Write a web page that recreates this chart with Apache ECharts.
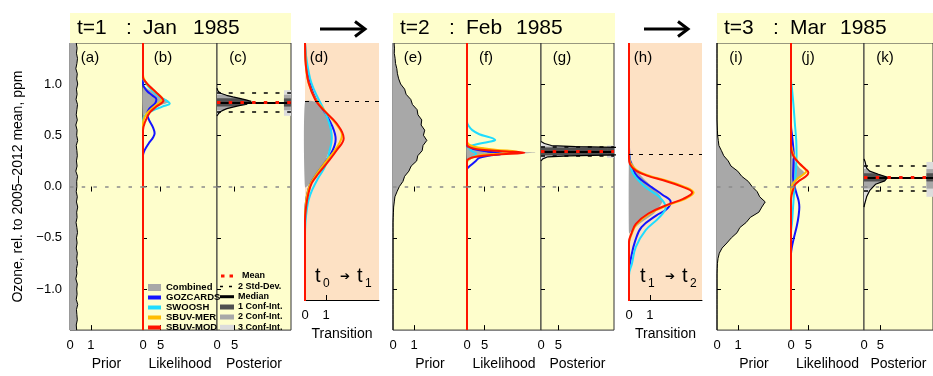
<!DOCTYPE html>
<html>
<head>
<meta charset="utf-8">
<script src="https://cdn.jsdelivr.net/npm/echarts@6/dist/echarts.min.js"></script>
<style>
  html, body { margin: 0; padding: 0; background: #fff; }
  #chart { width: 933px; height: 376px; }
</style>
</head>
<body>
<div id="chart"></div>
<script>
// ozone levels (ppm, rel. to 2005-2012) of the prior histograms, top to bottom
const priorLevels = [1.40,1.35,1.30,1.25,1.20,1.15,1.10,1.05,1.00,0.95,0.90,0.85,0.80,0.75,0.70,0.65,0.60,0.55,0.50,0.45,
  0.40,0.35,0.30,0.25,0.20,0.15,0.10,0.05,0.00,-0.05,-0.10,-0.15,-0.20,-0.25,-0.30,-0.35,-0.40,-0.45,-0.50,-0.55,
  -0.60,-0.65,-0.70,-0.75,-0.80,-0.85,-0.90,-0.95,-1.00,-1.05,-1.10,-1.15,-1.20,-1.25,-1.30,-1.35,-1.40];
// prior densities at those levels
const priorA = [0.30,0.34,0.31,0.36,0.33,0.28,0.35,0.32,0.37,0.31,0.34,0.29,0.36,0.33,0.30,0.35,0.28,0.34,0.32,0.37,
  0.30,0.33,0.35,0.31,0.34,0.28,0.36,0.32,0.33,0.30,0.35,0.31,0.37,0.32,0.34,0.29,0.33,0.36,0.31,0.34,
  0.30,0.35,0.32,0.36,0.31,0.33,0.28,0.35,0.32,0.34,0.30,0.37,0.31,0.33,0.35,0.30,0.32];
const priorE = [0.05,0.07,0.06,0.10,0.12,0.18,0.21,0.27,0.36,0.55,0.62,0.84,0.92,1.14,1.18,1.36,1.33,1.50,1.44,1.60,
  1.42,1.38,1.17,1.12,0.86,0.75,0.55,0.47,0.30,0.19,0.09,0.06,0.03,0.02,0.01,0,0,0,0,0,
  0,0,0,0,0,0,0,0,0,0,0,0,0,0,0,0,0];
const priorI = [0,0,0,0,0,0,0,0,0,0,0,0,0,0,0,0,0.01,0.02,0.03,0.06,
  0.09,0.21,0.32,0.53,0.66,0.98,1.17,1.48,1.66,1.90,2.02,2.28,2.12,1.98,1.58,1.38,1.08,0.95,0.68,0.47,
  0.24,0.11,0.05,0.02,0.01,0,0,0,0,0,0,0,0,0,0,0,0];

// likelihoods: [density, ozone]
const likB_comb = [[0,0.98],[1.5,0.95],[3,0.92],[4.5,0.89],[6,0.86],[7.4,0.825],[5.5,0.80],[3.6,0.77],[1.8,0.735],[0.5,0.71],[0,0.695]];
const likB_goz = [[0,-1.4],[0,0.30],[0.4,0.35],[1.6,0.42],[2.9,0.48],[3.3,0.52],[2.8,0.58],[1.7,0.65],[1.2,0.71],[1.8,0.76],[3.4,0.81],[3.8,0.85],[2.6,0.89],[1.2,0.93],[0.3,0.97],[0,1.0],[0,1.4]];
const likB_swoosh = [[0,-1.4],[0,0.64],[0.7,0.70],[2.7,0.74],[5.5,0.78],[7.6,0.81],[6.5,0.84],[4.1,0.89],[2.5,0.94],[1.4,0.98],[0.6,1.02],[0,1.06],[0,1.4]];
const likB_mer = [[0,-1.4],[0,0.62],[0.5,0.68],[1.5,0.73],[3.2,0.78],[5.0,0.83],[5.4,0.86],[4.3,0.90],[2.6,0.95],[1.2,1.0],[0.3,1.05],[0,1.09],[0,1.4]];
const likB_mod = [[0,-1.4],[0,0.55],[0.6,0.63],[1.9,0.72],[3.8,0.78],[5.8,0.84],[5.2,0.87],[3.7,0.92],[1.8,0.98],[0.5,1.03],[0,1.06],[0,1.4]];

const likF_comb = [[0,0.42],[1.5,0.40],[5,0.375],[10,0.355],[15,0.34],[19.5,0.33],[13,0.32],[7,0.30],[2.5,0.28],[0.5,0.265],[0,0.255]];
const likF_goz = [[0,-1.4],[0,0.17],[0.5,0.19],[1.5,0.22],[2.5,0.25],[3.5,0.28],[6,0.30],[10,0.32],[6,0.34],[2.5,0.36],[0.8,0.38],[0,0.40],[0,1.4]];
const likF_swoosh = [[0,-1.4],[0,0.24],[0.8,0.27],[2.0,0.30],[2.6,0.32],[1.2,0.35],[0.5,0.38],[2.5,0.41],[6,0.435],[8.0,0.455],[6.5,0.48],[3.5,0.51],[1.5,0.55],[0.5,0.59],[0,0.63],[0,1.4]];
const likF_mer = [[0,-1.4],[0,0.24],[0.7,0.27],[3,0.30],[9,0.32],[14.5,0.34],[8,0.36],[3,0.38],[1,0.40],[0.3,0.42],[0,0.44],[0,1.4]];
const likF_mod = [[0,-1.4],[0,0.25],[0.5,0.27],[2.5,0.29],[8,0.31],[16.3,0.33],[10,0.345],[4,0.36],[1.5,0.375],[0.4,0.39],[0,0.41],[0,1.4]];

const likJ_comb = [[0,0.30],[0.5,0.27],[1.5,0.22],[2.8,0.17],[3.8,0.135],[3.0,0.10],[1.6,0.06],[0.5,0.03],[0,0.01]];
const likJ_goz = [[0,1.4],[0,0.6],[0.3,0.5],[0.6,0.4],[0.8,0.3],[0.7,0.2],[0.6,0.1],[0.9,0.02],[1.6,-0.07],[2.2,-0.14],[2.4,-0.2],[2.2,-0.28],[1.7,-0.38],[0.7,-0.52],[0.2,-0.6],[0,-0.66],[0,-1.4]];
const likJ_swoosh = [[0,1.4],[0,1.05],[0.3,0.95],[0.7,0.8],[1.1,0.62],[1.5,0.45],[1.6,0.3],[1.4,0.15],[1.1,0.05],[0.9,-0.05],[0.7,-0.15],[0.5,-0.25],[0.3,-0.35],[0,-0.45],[0,-1.4]];
const likJ_mer = [[0,1.4],[0,0.42],[0.3,0.36],[1,0.29],[2.5,0.22],[4.0,0.17],[4.4,0.15],[3.6,0.12],[2,0.08],[0.8,0.04],[0.2,0.0],[0,-0.05],[0,-1.4]];
const likJ_mod = [[0,1.4],[0,0.38],[0.3,0.33],[1,0.28],[2.6,0.22],[4.2,0.17],[5.0,0.135],[4.3,0.10],[2.5,0.06],[1.2,0.02],[0.6,-0.03],[0.2,-0.08],[0,-0.13],[0,-1.4]];

// transitions t0->t1 and t1->t2
const trD_mark = 0.84;
const trD_comb = [[0,0.84],[0.48,0.84],[0.7,0.80],[0.95,0.74],[1.15,0.66],[1.27,0.57],[1.28,0.49],[1.2,0.41],[1.03,0.31],[0.8,0.22],[0.5,0.13],[0.24,0.06],[0,0.02]];
const trD_goz = [[0,1.4],[0.03,1.25],[0.1,1.12],[0.25,1.0],[0.5,0.87],[0.9,0.75],[1.3,0.6],[1.45,0.48],[1.3,0.37],[0.95,0.26],[0.55,0.15],[0.25,0.05],[0.1,-0.05],[0.03,-0.15],[0,-0.3],[0,-1.1]];
const trD_swoosh = [[0,1.4],[0.05,1.28],[0.15,1.15],[0.3,1.02],[0.6,0.88],[0.9,0.76],[1.15,0.63],[1.27,0.49],[1.15,0.36],[0.95,0.22],[0.6,0.1],[0.35,0.0],[0.17,-0.1],[0.08,-0.2],[0.02,-0.32],[0,-0.45],[0,-1.1]];
const trD_mer = [[0,1.4],[0.02,1.25],[0.07,1.12],[0.2,1.0],[0.48,0.87],[0.9,0.76],[1.45,0.63],[1.75,0.52],[1.5,0.40],[1.0,0.27],[0.55,0.15],[0.25,0.05],[0.1,-0.05],[0.03,-0.15],[0,-0.25],[0,-1.1]];
const trD_mod = [[0,1.4],[0.02,1.25],[0.05,1.17],[0.17,1.02],[0.48,0.86],[0.87,0.76],[1.5,0.63],[1.83,0.49],[1.5,0.375],[1.03,0.25],[0.63,0.15],[0.32,0.06],[0.16,-0.04],[0.05,-0.17],[0,-0.3],[0,-1.1]];

const trH_mark = 0.34;
const trH_comb = [[0,0.34],[0.1,0.28],[0.49,0.15],[1.13,0.02],[1.5,-0.06],[1.6,-0.12],[1.2,-0.23],[0.49,-0.33],[0.1,-0.40],[0,-0.42]];
const trH_goz = [[0,1.4],[0,0.4],[0.05,0.28],[0.3,0.15],[0.6,0.09],[1.1,0.02],[1.6,-0.05],[2.0,-0.12],[1.8,-0.19],[1.3,-0.25],[0.6,-0.36],[0.3,-0.49],[0.1,-0.65],[0,-0.78],[0,-1.1]];
const trH_swoosh = [[0,1.4],[0,0.36],[0.05,0.25],[0.2,0.15],[0.8,0.02],[1.44,-0.07],[1.76,-0.17],[1.44,-0.27],[0.8,-0.39],[0.33,-0.55],[0.14,-0.71],[0,-0.82],[0,-1.1]];
const trH_mer = [[0,1.4],[0,0.32],[0.07,0.25],[0.4,0.18],[1.0,0.13],[1.7,0.09],[2.6,0.03],[3.1,-0.03],[2.7,-0.09],[2.0,-0.14],[1.0,-0.23],[0.38,-0.33],[0.12,-0.43],[0,-0.52],[0,-1.1]];
const trH_mod = [[0,1.4],[0,0.30],[0.05,0.24],[0.33,0.18],[0.9,0.13],[1.6,0.09],[2.5,0.03],[3.03,-0.03],[2.6,-0.09],[1.92,-0.14],[0.93,-0.23],[0.33,-0.33],[0.1,-0.43],[0,-0.5],[0,-1.1]];

// posteriors: density, conf-int (1,2,3), mean, median, 2 std-dev
const postC = [[0,0.96],[0.3,0.93],[1,0.91],[2.7,0.89],[4.5,0.875],[6.4,0.86],[8.2,0.845],[9.7,0.83],[9.2,0.815],[8.2,0.80],[6.3,0.79],[4.5,0.775],[2.8,0.76],[1.8,0.745],[0.9,0.73],[0.4,0.71],[0,0.69]];
const postC_ci = [[0.78,0.86],[0.745,0.895],[0.69,0.94]];
const postC_mean = 0.82, postC_median = 0.82, postC_sd = [0.73,0.91];

const postG = [[0,0.44],[1,0.42],[3,0.40],[10,0.39],[25,0.38],[45,0.36],[50,0.34],[45,0.32],[25,0.31],[8,0.30],[2,0.29],[0.5,0.27],[0,0.25]];
const postG_ci = [[0.305,0.38],[0.295,0.39],[0.28,0.40]];
const postG_mean = 0.34, postG_median = 0.34, postG_sd = [0.30,0.385];

const postK = [[0,0.27],[0.3,0.245],[0.8,0.18],[1.7,0.15],[4.4,0.12],[7.2,0.09],[6.3,0.055],[3.5,0.022],[1.7,-0.04],[0.8,-0.1],[0.2,-0.17],[0,-0.2]];
const postK_ci = [[0.05,0.13],[-0.02,0.17],[-0.1,0.24]];
const postK_mean = 0.09, postK_median = 0.09, postK_sd = [-0.035,0.205];

const FONT = 'Liberation Sans';
const YELLOW = '#fefecc';
const PEACH = '#fde1c4';
const C_GOZ = '#1414ff', C_SW = '#1edcff', C_MER = '#ffbc00', C_MOD = '#ff1400', C_COMB = '#a8a8a8';
const CI_FILL = ['#505050', '#a8a8a8', '#dcdcdc'];

// panel layout
const panels = [
  { left: 70, width: 73, kind: 'prior', name: 'Prior' },
  { left: 143, width: 74, kind: 'lik', name: 'Likelihood' },
  { left: 217, width: 74, kind: 'post', name: 'Posterior' },
  { left: 305, width: 74, kind: 'trans', name: 'Transition' },
  { left: 393, width: 74, kind: 'prior', name: 'Prior' },
  { left: 467, width: 74, kind: 'lik', name: 'Likelihood' },
  { left: 541, width: 73, kind: 'post', name: 'Posterior' },
  { left: 629, width: 73, kind: 'trans', name: 'Transition' },
  { left: 717, width: 74, kind: 'prior', name: 'Prior' },
  { left: 791, width: 73, kind: 'lik', name: 'Likelihood' },
  { left: 864, width: 74, kind: 'post', name: 'Posterior' }
];
const panelTags = ['(a)','(b)','(c)','(d)','(e)','(f)','(g)','(h)','(i)','(j)','(k)'];
const tagX = [90, 163, 238, 319, 413, 486, 562, 643, 736, 808, 885];

const small = k => (k === 'prior' || k === 'trans');

const grid = panels.map(p => ({
  left: p.left, top: 43, width: p.width, height: p.kind === 'trans' ? 257 : 293,
  show: true, backgroundColor: p.kind === 'trans' ? PEACH : YELLOW,
  borderColor: '#333', borderWidth: p.kind === 'trans' ? 0 : 1
}));

const xAxis = panels.map((p, i) => {
  const t = small(p.kind) ? 1 : 5;
  return {
    gridIndex: i, type: 'value', min: 0, max: small(p.kind) ? 3.5 : 21, position: 'bottom',
    axisLine: { show: p.kind === 'trans', onZero: false, lineStyle: { color: '#000', width: 1 } },
    axisTick: { show: true, inside: true, length: 5, customValues: [t], lineStyle: { color: '#000' } },
    axisLabel: { customValues: [0, t], fontSize: 13, color: '#000', margin: 9, fontFamily: FONT },
    splitLine: { show: false },
    name: p.name, nameLocation: 'middle', nameGap: 24,
    nameTextStyle: { fontSize: 14, color: '#000', fontFamily: FONT }
  };
});
panels.forEach((p, i) => {
  if (p.kind === 'trans') return;
  const t = small(p.kind) ? 1 : 5;
  xAxis.push({
    gridIndex: i, type: 'value', min: 0, max: small(p.kind) ? 3.5 : 21, position: 'top',
    axisLine: { show: false },
    axisTick: { show: true, inside: true, length: 5, customValues: [t], lineStyle: { color: '#000' } },
    axisLabel: { show: false }, splitLine: { show: false }
  });
});

const yTicks = [-1, -0.5, 0, 0.5, 1];
const yAxis = panels.map((p, i) => ({
  gridIndex: i, type: 'value', min: p.kind === 'trans' ? -1.057 : -1.4, max: 1.4,
  axisLine: { show: false },
  axisTick: { show: p.kind !== 'trans', inside: true, length: 4, customValues: yTicks, lineStyle: { color: '#000' } },
  axisLabel: {
    show: i === 0, customValues: yTicks, fontSize: 13, color: '#000', margin: 8, fontFamily: FONT,
    formatter: v => v.toFixed(1).replace('-', '\u2212')
  },
  splitLine: { show: false },
  name: i === 0 ? 'Ozone, rel. to 2005\u20132012 mean, ppm' : '',
  nameLocation: 'middle', nameGap: 45,
  nameTextStyle: { fontSize: 14, color: '#000', fontFamily: FONT }
}));

// clip a pixel polygon to a rectangle (Sutherland-Hodgman)
function clipRect(pts, x0, x1, y0, y1) {
  const edges = [
    [p => p[0] >= x0, (a, b) => [x0, a[1] + (x0 - a[0]) / (b[0] - a[0]) * (b[1] - a[1])]],
    [p => p[0] <= x1, (a, b) => [x1, a[1] + (x1 - a[0]) / (b[0] - a[0]) * (b[1] - a[1])]],
    [p => p[1] >= y0, (a, b) => [a[0] + (y0 - a[1]) / (b[1] - a[1]) * (b[0] - a[0]), y0]],
    [p => p[1] <= y1, (a, b) => [a[0] + (y1 - a[1]) / (b[1] - a[1]) * (b[0] - a[0]), y1]]
  ];
  let out = pts;
  for (const [inside, cut] of edges) {
    const src = out;
    out = [];
    for (let i = 0; i < src.length; i++) {
      const cur = src[i], prev = src[(i + src.length - 1) % src.length];
      if (inside(cur)) {
        if (!inside(prev)) out.push(cut(prev, cur));
        out.push(cur);
      } else if (inside(prev)) {
        out.push(cut(prev, cur));
      }
    }
    if (!out.length) break;
  }
  return out;
}

function polySeries(gi, pts, color, smooth) {
  return {
    type: 'custom', xAxisIndex: gi, yAxisIndex: gi, silent: true, z: 2, data: [[0, 0]],
    renderItem: (params, api) => {
      const cs = params.coordSys;
      const pp = clipRect(pts.map(p => api.coord(p)), cs.x, cs.x + cs.width, cs.y, cs.y + cs.height);
      return { type: 'polygon', shape: { points: pp, smooth: smooth || 0 }, style: { fill: color } };
    }
  };
}

function postFillSeries(gi, pts, ci) {
  return {
    type: 'custom', xAxisIndex: gi, yAxisIndex: gi, silent: true, z: 2, data: [[0, 0]],
    renderItem: (params, api) => {
      const cs = params.coordSys;
      const pix = pts.map(p => api.coord(p));
      const kids = [{
        type: 'polygon',
        shape: { points: clipRect(pix, cs.x, cs.x + cs.width, cs.y, cs.y + cs.height) },
        style: { fill: '#e6e6e6' }
      }];
      for (let k = 2; k >= 0; k--) {
        const yt = api.coord([0, ci[k][1]])[1], yb = api.coord([0, ci[k][0]])[1];
        kids.push({
          type: 'polygon',
          shape: { points: clipRect(pix, cs.x, cs.x + cs.width, yt, yb) },
          style: { fill: CI_FILL[k] }
        });
      }
      // conf-int box at the right edge
      for (let k = 2; k >= 0; k--) {
        const a = api.coord([19, ci[k][1]]), b = api.coord([21, ci[k][0]]);
        kids.push({ type: 'rect', shape: { x: a[0], y: a[1], width: b[0] - a[0], height: b[1] - a[1] }, style: { fill: CI_FILL[k] } });
      }
      return { type: 'group', children: kids };
    }
  };
}

const mk = (v, color, type, width) => ({ yAxis: v, lineStyle: { color, type, width } });
const zeroMark = mk(0, '#8a8a8a', [3.5, 8.2], 1.5);

function lineSeries(gi, name, pts, color, width, smooth, marks) {
  const s = {
    type: 'line', name, xAxisIndex: gi, yAxisIndex: gi, data: pts, symbol: 'none', showSymbol: false,
    smooth, silent: true, z: 3, lineStyle: { color, width }
  };
  if (marks) {
    s.markLine = { silent: true, symbol: ['none', 'none'], label: { show: false }, animation: false, data: marks };
  }
  return s;
}

const series = [];

// priors
[[0, priorA], [4, priorE], [8, priorI]].forEach(([gi, dens]) => {
  const pts = priorLevels.map((v, k) => [dens[k], v]);
  series.push(polySeries(gi, [[0, priorLevels[0]], ...pts, [0, priorLevels[priorLevels.length - 1]]], C_COMB, 0));
  series.push(lineSeries(gi, 'Prior', pts, '#000', 1, false, [zeroMark]));
});

// likelihoods
[[1, likB_comb, likB_goz, likB_swoosh, likB_mer, likB_mod],
 [5, likF_comb, likF_goz, likF_swoosh, likF_mer, likF_mod],
 [9, likJ_comb, likJ_goz, likJ_swoosh, likJ_mer, likJ_mod]].forEach(([gi, comb, goz, sw, mer, mod]) => {
  series.push(polySeries(gi, comb, C_COMB, 0.3));
  series.push(lineSeries(gi, 'GOZCARDS', goz, C_GOZ, 2, 0.4));
  series.push(lineSeries(gi, 'SWOOSH', sw, C_SW, 2, 0.4));
  series.push(lineSeries(gi, 'SBUV-MER', mer, C_MER, 2, 0.4));
  series.push(lineSeries(gi, 'SBUV-MOD', mod, C_MOD, 2, 0.4, [zeroMark]));
});

// posteriors
[[2, postC, postC_ci, postC_mean, postC_median, postC_sd],
 [6, postG, postG_ci, postG_mean, postG_median, postG_sd],
 [10, postK, postK_ci, postK_mean, postK_median, postK_sd]].forEach(([gi, pts, ci, mean, med, sd]) => {
  series.push(postFillSeries(gi, pts, ci));
  series.push(lineSeries(gi, 'Posterior', pts, '#000', 1.2, false, [
    zeroMark,
    mk(sd[0], '#000', [4, 7.7], 1.5),
    mk(sd[1], '#000', [4, 7.7], 1.5),
    mk(med, '#000', 'solid', 2),
    mk(mean, '#ff1400', [3.5, 8.2], 3)
  ]));
});

// transitions
[[3, trD_comb, trD_goz, trD_swoosh, trD_mer, trD_mod, trD_mark],
 [7, trH_comb, trH_goz, trH_swoosh, trH_mer, trH_mod, trH_mark]].forEach(([gi, comb, goz, sw, mer, mod, m]) => {
  series.push(polySeries(gi, comb, '#a4a4a4', 0.2));
  series.push(lineSeries(gi, 'GOZCARDS', goz, C_GOZ, 2, 0.4));
  series.push(lineSeries(gi, 'SWOOSH', sw, C_SW, 2, 0.4));
  series.push(lineSeries(gi, 'SBUV-MER', mer, C_MER, 2, 0.4));
  series.push(lineSeries(gi, 'SBUV-MOD', mod, C_MOD, 2, 0.4, [mk(m, '#000', [4, 6], 1)]));
});

// decorations
const graphic = [];
const titleBoxes = [
  { left: 70, width: 221, words: ['t=1', ':', 'Jan', '1985'] },
  { left: 393, width: 222, words: ['t=2', ':', 'Feb', '1985'] },
  { left: 717, width: 216, words: ['t=3', ':', 'Mar', '1985'] }
];
const wordOffsets = [7, 56, 73, 123];
titleBoxes.forEach(b => {
  graphic.push({ type: 'rect', z: 1, shape: { x: b.left, y: 13, width: b.width, height: 30 }, style: { fill: YELLOW } });
  b.words.forEach((w, k) => graphic.push({
    type: 'text', z: 60, x: b.left + wordOffsets[k], y: 28,
    style: { text: w, font: '21px ' + FONT, fill: '#000', verticalAlign: 'middle' }
  }));
});

// arrows between time steps
[[320, 365], [644, 688]].forEach(([x0, x1]) => {
  graphic.push({ type: 'line', z: 60, shape: { x1: x0, y1: 29, x2: x1 - 1, y2: 29 }, style: { stroke: '#000', lineWidth: 3 } });
  graphic.push({ type: 'polyline', z: 60, shape: { points: [[x1 - 10, 21.5], [x1, 29], [x1 - 10, 36.5]] }, style: { stroke: '#000', lineWidth: 3, fill: null } });
});

panelTags.forEach((t, i) => graphic.push({
  type: 'text', z: 60, x: tagX[i], y: 58,
  style: { text: t, font: '15px ' + FONT, fill: '#000', align: 'center', verticalAlign: 'middle' }
}));

// t0 -> t1 labels
[[315, '0', '1'], [640, '1', '2']].forEach(([x, a, b]) => {
  graphic.push({ type: 'text', z: 60, x: x, y: 276, style: { text: 't', font: '20px ' + FONT, fill: '#000', verticalAlign: 'middle' } });
  graphic.push({ type: 'text', z: 60, x: x + 8, y: 284, style: { text: a, font: '12px ' + FONT, fill: '#000', verticalAlign: 'middle' } });
  graphic.push({ type: 'text', z: 60, x: x + 25, y: 277, style: { text: '\u2794', font: '12px DejaVu Sans', fill: '#000', verticalAlign: 'middle' } });
  graphic.push({ type: 'text', z: 60, x: x + 42, y: 276, style: { text: 't', font: '20px ' + FONT, fill: '#000', verticalAlign: 'middle' } });
  graphic.push({ type: 'text', z: 60, x: x + 50, y: 284, style: { text: b, font: '12px ' + FONT, fill: '#000', verticalAlign: 'middle' } });
});

// likelihood legend
[['Combined', C_COMB, 7], ['GOZCARDS', C_GOZ, 4], ['SWOOSH', C_SW, 4], ['SBUV-MER', C_MER, 4], ['SBUV-MOD', C_MOD, 4]].forEach(([t, c, h], k) => {
  const y = 287.5 + 10 * k;
  graphic.push({ type: 'rect', z: 60, shape: { x: 148, y: y - h / 2, width: 13, height: h }, style: { fill: c } });
  graphic.push({ type: 'text', z: 60, x: 166, y: y, style: { text: t, font: 'bold 9.5px ' + FONT, fill: '#000', verticalAlign: 'middle' } });
});

// posterior legend
const py = [276, 286.5, 296.7, 307, 317, 327.3];
graphic.push({ type: 'line', z: 60, shape: { x1: 221, y1: py[0], x2: 236, y2: py[0] }, style: { stroke: '#ff1400', lineWidth: 3, lineDash: [3.5, 5] } });
graphic.push({ type: 'line', z: 60, shape: { x1: 220, y1: py[1], x2: 234, y2: py[1] }, style: { stroke: '#000', lineWidth: 1.5, lineDash: [3, 6] } });
graphic.push({ type: 'line', z: 60, shape: { x1: 220, y1: py[2], x2: 234, y2: py[2] }, style: { stroke: '#000', lineWidth: 3 } });
[0, 1, 2].forEach(k => graphic.push({ type: 'rect', z: 60, shape: { x: 220, y: py[3 + k] - 2.5, width: 14, height: 5 }, style: { fill: CI_FILL[k] } }));
['Mean', '2 Std-Dev.', 'Median', '1 Conf-Int.', '2 Conf-Int.', '3 Conf-Int.'].forEach((t, k) => graphic.push({
  type: 'text', z: 60, x: k === 0 ? 242 : 238, y: py[k],
  style: { text: t, font: 'bold 9px ' + FONT, fill: '#000', verticalAlign: 'middle' }
}));

const chart = echarts.init(document.getElementById('chart'), null, { renderer: 'canvas' });
chart.setOption({
  animation: false,
  backgroundColor: '#fff',
  textStyle: { fontFamily: FONT, color: '#000' },
  grid, xAxis, yAxis, series, graphic
});
</script>
</body>
</html>
